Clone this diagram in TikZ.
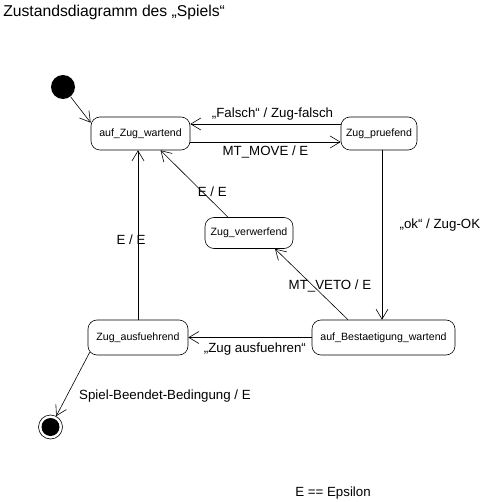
\documentclass[tikz,border=0pt]{standalone}
\usepackage{fontspec}
\setmainfont{Liberation Sans}
\usetikzlibrary{arrows.meta}
\tikzset{
  zustand/.style={draw, rounded corners=9pt, minimum height=33pt, inner sep=0pt, font=\fontsize{10.6}{12}\selectfont},
  pfeil/.style={-{Straight Barb[length=10pt,width=12pt]}},
  beschr/.style={font=\fontsize{13.3}{16}\selectfont},
}
\begin{document}
\begin{tikzpicture}[x=1pt,y=-1pt,line width=.6pt]
\useasboundingbox (0,0) rectangle (480,502);
\node[anchor=base west,inner sep=0pt,font=\fontsize{15.7}{19}\selectfont] (titel) at (3,17) {Zustandsdiagramm des „Spiels“};
\node[circle,fill,minimum size=24pt,inner sep=0pt] (start) at (63,87) {};
\node[zustand,minimum width=99pt] (wartend) at (140.5,133.5) {auf\_Zug\_wartend};
\node[zustand,minimum width=76pt] (pruefend) at (379,133.5) {Zug\_pruefend};
\node[zustand,minimum width=88pt,minimum height=31pt] (verwerfend) at (249,233) {Zug\_verwerfend};
\node[zustand,minimum width=100pt,minimum height=35pt] (ausfuehrend) at (138,337.5) {Zug\_ausfuehrend};
\node[zustand,minimum width=143pt,minimum height=35pt] (bestaetigung) at (383.5,337.5) {auf\_Bestaetigung\_wartend};
\node[circle,draw,minimum size=24pt,inner sep=0pt] (ende) at (50.5,427) {};
\node[circle,fill,minimum size=18pt,inner sep=0pt] (endepunkt) at (ende) {};
\draw[pfeil] (start) -- ([yshift=-6pt]wartend.north west);
\draw[pfeil] ([yshift=9.5pt]pruefend.west) -- node[beschr,above,xshift=7pt] (lfalsch) {„Falsch“ / Zug-falsch} ([yshift=9.5pt]wartend.east);
\draw[pfeil] ([yshift=-8.5pt]wartend.east) -- node[beschr,below] (lmove) {MT\_MOVE / E} ([yshift=-8.5pt]pruefend.west);
\draw[pfeil] ([xshift=3pt]pruefend.south) -- node[beschr,pos=.44,right=14pt] (lok) {„ok“ / Zug-OK} ([xshift=-1.5pt]bestaetigung.north);
\draw[pfeil] ([xshift=-35.5pt]bestaetigung.north) -- node[beschr,pos=.48,xshift=17pt] (lveto) {MT\_VETO / E} ([xshift=26pt]verwerfend.south);
\draw[pfeil] ([xshift=-21pt]verwerfend.north) -- node[beschr,pos=.38,xshift=10pt] (lverw) {E / E} ([xshift=20pt]wartend.south);
\draw[pfeil] (bestaetigung.west) -- node[beschr,below,pos=.46,yshift=-2pt] (lausf) {„Zug ausfuehren“} (ausfuehrend.east);
\draw[pfeil] (ausfuehrend.north) -- node[beschr,pos=.47,xshift=-7pt] (lzurueck) {E / E} (ausfuehrend.north |- wartend.south);
\draw[pfeil] ([shift={(2pt,3pt)}]ausfuehrend.south west) -- node[beschr,pos=.69,right=9pt] (lende) {Spiel-Beendet-Bedingung / E} (ende);
\node[beschr] (notiz) at (333,493) {E == Epsilon};
\end{tikzpicture}
\end{document}
